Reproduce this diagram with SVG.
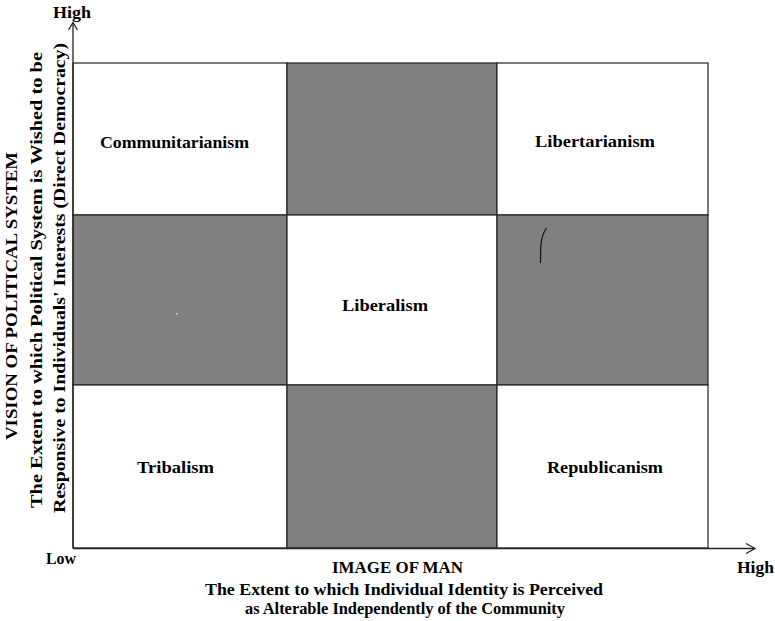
<svg xmlns="http://www.w3.org/2000/svg" width="775" height="621" viewBox="0 0 775 621">
  <style>
    .t { font-family: "Liberation Serif", "Times New Roman", serif; font-weight: bold; font-size: 16px; fill: #000; }
    .c { text-anchor: middle; }
    .w { fill: #ffffff; stroke: #222; stroke-width: 1.2; }
    .g { fill: #808080; stroke: #222; stroke-width: 1.2; }
    .ax { fill: none; stroke: #222; stroke-width: 1.3; }
  </style>
  <rect x="0" y="0" width="775" height="621" fill="#ffffff"/>

  <g id="cell-communitarianism">
    <rect class="w" x="73" y="63" width="214" height="152"/>
    <text class="t" x="100" y="148" textLength="149" lengthAdjust="spacingAndGlyphs">Communitarianism</text>
  </g>
  <g id="cell-top-middle">
    <rect class="g" x="287" y="63" width="210" height="152"/>
  </g>
  <g id="cell-libertarianism">
    <rect class="w" x="497" y="63" width="211" height="152"/>
    <text class="t" x="535" y="147" textLength="120" lengthAdjust="spacingAndGlyphs">Libertarianism</text>
  </g>
  <g id="cell-middle-left">
    <rect class="g" x="73" y="215" width="214" height="170"/>
    <rect x="176" y="313" width="1.5" height="1.5" fill="#e0e0e0"/>
  </g>
  <g id="cell-liberalism">
    <rect class="w" x="287" y="215" width="210" height="170"/>
    <text class="t" x="342" y="311" textLength="86" lengthAdjust="spacingAndGlyphs">Liberalism</text>
  </g>
  <g id="cell-middle-right">
    <rect class="g" x="497" y="215" width="211" height="170"/>
    <path d="M540.5 263 L540.7 247 Q541.5 235 546.5 228" fill="none" stroke="#111" stroke-width="1.2"/>
  </g>
  <g id="cell-tribalism">
    <rect class="w" x="73" y="385" width="214" height="163"/>
    <text class="t" x="137" y="473" textLength="77" lengthAdjust="spacingAndGlyphs">Tribalism</text>
  </g>
  <g id="cell-bottom-middle">
    <rect class="g" x="287" y="385" width="210" height="163"/>
  </g>
  <g id="cell-republicanism">
    <rect class="w" x="497" y="385" width="211" height="163"/>
    <text class="t" x="547" y="473" textLength="116" lengthAdjust="spacingAndGlyphs">Republicanism</text>
  </g>

  <g id="connectors">
    <path class="ax" d="M73 548 L73 23"/>
    <path class="ax" d="M68.5 30 L73 22.5 L77.5 30"/>
    <path class="ax" d="M73 548.5 L754 548.5"/>
    <path class="ax" d="M746 543.5 L755 548.5 L746 553.5"/>
  </g>

  <g id="y-axis-labels">
    <text class="t" x="53" y="18" textLength="38" lengthAdjust="spacingAndGlyphs">High</text>
    <text class="t c" transform="translate(17 296) rotate(-90)" textLength="288" lengthAdjust="spacingAndGlyphs">VISION OF POLITICAL SYSTEM</text>
    <text class="t c" transform="translate(42 280) rotate(-90)" textLength="456" lengthAdjust="spacingAndGlyphs">The Extent to which Political System is Wished to be</text>
    <text class="t c" transform="translate(65 278) rotate(-90)" textLength="470" lengthAdjust="spacingAndGlyphs">Responsive to Individuals' Interests (Direct Democracy)</text>
  </g>

  <g id="x-axis-labels">
    <text class="t" x="46" y="564" textLength="30" lengthAdjust="spacingAndGlyphs">Low</text>
    <text class="t" x="737" y="573" textLength="37" lengthAdjust="spacingAndGlyphs">High</text>
    <text class="t" x="332" y="573" textLength="131" lengthAdjust="spacingAndGlyphs">IMAGE OF MAN</text>
    <text class="t" x="205" y="595" textLength="398" lengthAdjust="spacingAndGlyphs">The Extent to which Individual Identity is Perceived</text>
    <text class="t" x="245" y="614" textLength="320" lengthAdjust="spacingAndGlyphs">as Alterable Independently of the Community</text>
  </g>
</svg>
